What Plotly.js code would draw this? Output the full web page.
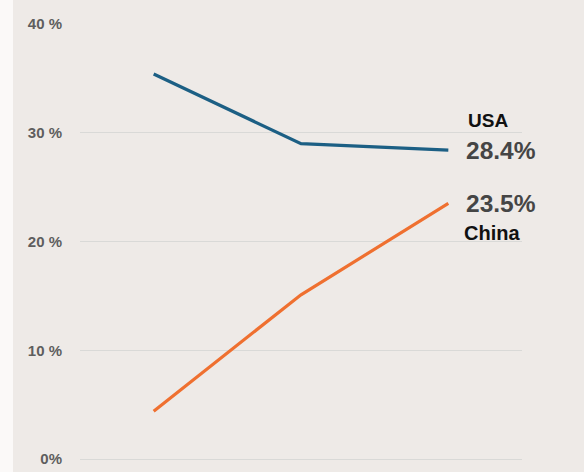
<!DOCTYPE html>
<html>
<head>
<meta charset="utf-8">
<script src="https://cdn.plot.ly/plotly-3.0.1.min.js"></script>
<style>
html,body{margin:0;padding:0;background:#FBF9F8;}
#chart{position:absolute;left:13px;top:0;width:571px;height:472px;}
</style>
</head>
<body>
<div id="chart"></div>
<script>
const periods = ["P1", "P2", "P3"];
const usaValues = [35.4, 29.0, 28.4];
const chinaValues = [4.4, 15.1, 23.5];
const tickValues = [0, 10, 20, 30, 40];
const tickLabels = ["0%", "10 %", "20 %", "30 %", "40 %"];
const usaName = "USA";
const chinaName = "China";
const usaLabel = "28.4%";
const chinaLabel = "23.5%";

const bg = "#EEEAE7";
const font = "Liberation Sans, Arial, sans-serif";
const xIdx = periods.map((_, i) => i);

const traces = [
  {x: xIdx, y: usaValues, name: usaName, mode: "lines", line: {color: "#1C5F84", width: 3.2}, hoverinfo: "skip"},
  {x: xIdx, y: chinaValues, name: chinaName, mode: "lines", line: {color: "#EF7030", width: 3.2}, hoverinfo: "skip"}
];

const last = periods.length - 1;
const layout = {
  width: 571, height: 472,
  paper_bgcolor: bg, plot_bgcolor: bg,
  showlegend: false,
  margin: {l: 67, r: 62, t: 24, b: 13},
  xaxis: {range: [-0.5, last + 0.5], showgrid: false, zeroline: false, showticklabels: false, showline: false, fixedrange: true},
  yaxis: {
    range: [0, 40], tickvals: tickValues, ticktext: tickLabels,
    showgrid: true, gridcolor: "#D9D9D7", gridwidth: 1,
    zeroline: true, zerolinecolor: "#D9D9D7", zerolinewidth: 1, showline: false,
    tickfont: {family: font, size: 15, color: "#5E5E5E", weight: "bold"},
    ticklabelstandoff: 17, ticks: "", fixedrange: true
  },
  annotations: [
    {x: last, y: usaValues[last], xref: "x", yref: "y", text: "<b>" + usaLabel + "</b>", showarrow: false,
     xanchor: "left", xshift: 16, yshift: 0, font: {family: font, size: 24.5, color: "#454545"}},
    {x: last, y: usaValues[last], xref: "x", yref: "y", text: "<b>" + usaName + "</b>", showarrow: false,
     xanchor: "left", xshift: 18, yshift: 30, font: {family: font, size: 19, color: "#111111"}},
    {x: last, y: chinaValues[last], xref: "x", yref: "y", text: "<b>" + chinaLabel + "</b>", showarrow: false,
     xanchor: "left", xshift: 16, yshift: 0, font: {family: font, size: 24.5, color: "#454545"}},
    {x: last, y: chinaValues[last], xref: "x", yref: "y", text: "<b>" + chinaName + "</b>", showarrow: false,
     xanchor: "left", xshift: 14, yshift: -30, font: {family: font, size: 20, color: "#111111"}}
  ]
};

Plotly.newPlot("chart", traces, layout, {displayModeBar: false, staticPlot: true});
</script>
</body>
</html>
